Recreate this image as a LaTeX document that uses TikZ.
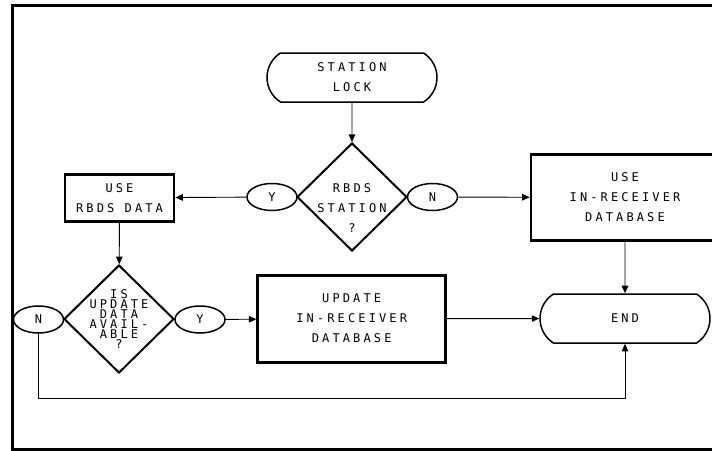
\documentclass[tikz,border=0pt]{standalone}
\usepackage{fontspec}
\newfontfamily\plotfont[LetterSpace=26]{DejaVu Sans Mono}
\usetikzlibrary{shapes.geometric,shapes.misc,arrows.meta}

\begin{document}
\begin{tikzpicture}[x=1pt, y=-1pt,
        every node/.style={font=\plotfont\fontsize{12}{20}\selectfont, align=center, inner sep=0pt},
        term/.style={rounded rectangle, rounded rectangle arc length=115, draw, line width=1.5pt, minimum width=170pt, minimum height=49pt},
        box/.style={rectangle, draw, line width=2.6pt},
        test/.style={diamond, draw, line width=2pt, minimum width=110pt, minimum height=108pt},
        answer/.style={ellipse, draw, line width=1.5pt, minimum width=50pt, minimum height=27pt},
        arr/.style={-{Triangle[length=7.5pt,width=6.5pt]}, line width=0.9pt},
    ]
    \useasboundingbox (0,0) rectangle (712,450);
    \clip (0,0) rectangle (712,450);
    % frame
    \draw[line width=3pt] (12.5,5.5) rectangle (760,449.5);

    % upper row
    \node[term] (start) at (352,77.5) {STATION\\LOCK};
    \node[test] (d1) at (352,197) {};
    \node (d1txt) at (352,208) {RBDS\\STATION\\?};
    \node[answer] (y1) at (272,197) {Y};
    \node[answer] (n1) at (432.5,197) {N};
    \node[box, minimum width=109pt, minimum height=47pt] (usedata) at (119.5,197.8) {USE\\RBDS DATA};
    \node[box, minimum width=188pt, minimum height=86pt] (useinrx) at (625,197.5) {USE\\IN-RECEIVER\\DATABASE};

    % lower row
    \node[test] (d2) at (119,319) {};
    \node[font=\plotfont\fontsize{12}{8.4}\selectfont] (d2txt) at (119,319) {IS\\UPDATE\\DATA\\AVAIL-\\ABLE\\?};
    \node[answer] (n2) at (38.5,319.5) {N};
    \node[answer] (y2) at (200,319.5) {Y};
    \node[box, minimum width=188pt, minimum height=87pt] (update) at (351.7,318.7) {UPDATE\\IN-RECEIVER\\DATABASE};
    \node[term] (end) at (625,318.5) {END};
    \coordinate (loop) at (38.5,398.3);

    % connectors
    \draw[arr] (start) -- (d1);
    \draw[arr] (y1) -- (usedata);
    \draw[arr] (n1) -- (useinrx);
    \draw[arr] (usedata) -- (d2);
    \draw[arr] (y2) -- (update);
    \draw[arr] (update) -- (end);
    \draw[arr] (useinrx) -- (end);
    \draw[arr] (n2) -- (loop) -| (end);
\end{tikzpicture}
\end{document}
